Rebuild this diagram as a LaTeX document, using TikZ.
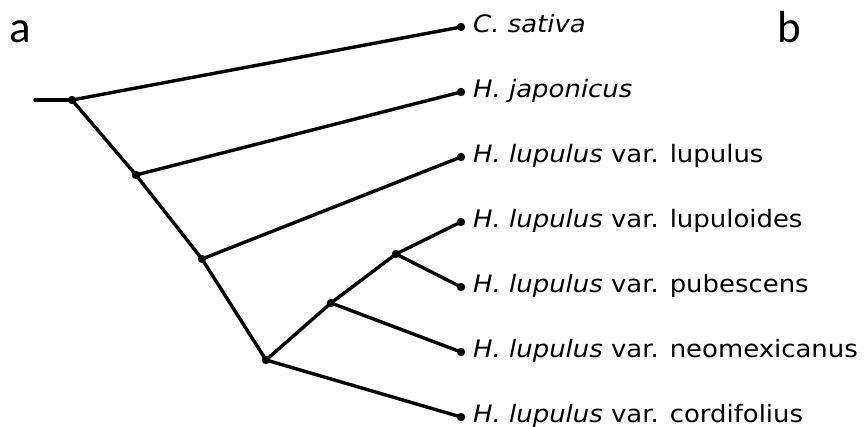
\documentclass[tikz,border=0pt]{standalone}
\usepackage{fontspec}
\setmainfont{DejaVu Sans}[FakeStretch=1.08]
\newfontfamily\panelfont{Carlito}
\usetikzlibrary{calc}
\begin{document}
\begin{tikzpicture}[x=1pt,y=-1pt,
  branch/.style={line width=3.4pt,line cap=round},
  dot/.style={fill=black},
  taxon/.style={anchor=base west,inner sep=0pt,font=\fontsize{24}{28}\selectfont},
  panel/.style={anchor=base west,inner sep=0pt,font=\panelfont\fontsize{45}{50}\selectfont}]
\useasboundingbox (0,0) rectangle (868,427);
% internal nodes
\coordinate (root) at (35,100);
\coordinate (n1) at (72,100);
\coordinate (n2) at (136,175);
\coordinate (n3) at (202,259);
\coordinate (n4) at (266,360);
\coordinate (n5) at (331,303);
\coordinate (n6) at (396,254);
% tips
\coordinate (tC)  at (461,27);
\coordinate (tJ)  at (461,92);
\coordinate (tL)  at (461,157);
\coordinate (tLo) at (461,222);
\coordinate (tP)  at (461,287);
\coordinate (tN)  at (461,352);
\coordinate (tCo) at (461,417);
% branches
\draw[branch] (root) -- (n1);
\draw[branch] (n1) -- (tC);
\draw[branch] (n1) -- (n2);
\draw[branch] (n2) -- (tJ);
\draw[branch] (n2) -- (n3);
\draw[branch] (n3) -- (tL);
\draw[branch] (n3) -- (n4);
\draw[branch] (n4) -- (n5);
\draw[branch] (n5) -- (n6);
\draw[branch] (n6) -- (tLo);
\draw[branch] (n6) -- (tP);
\draw[branch] (n5) -- (tN);
\draw[branch] (n4) -- (tCo);
% node dots
\foreach \p in {n1,n2,n3,n4,n5,n6,tC,tJ,tL,tLo,tP,tN,tCo}
  \fill[dot] (\p) circle (4.2);
% taxon labels
\node[taxon] (lC)  at ($(tC)+(12,6)$)  {\textit{C. sativa}};
\node[taxon] (lJ)  at ($(tJ)+(12,6)$)  {\textit{H. japonicus}};
\node[taxon] (lL)  at ($(tL)+(12,6)$)  {\textit{H. lupulus} var. lupulus};
\node[taxon] (lLo) at ($(tLo)+(12,6)$) {\textit{H. lupulus} var. lupuloides};
\node[taxon] (lP)  at ($(tP)+(12,6)$)  {\textit{H. lupulus} var. pubescens};
\node[taxon] (lN)  at ($(tN)+(12,6)$)  {\textit{H. lupulus} var. neomexicanus};
\node[taxon] (lCo) at ($(tCo)+(12,6)$) {\textit{H. lupulus} var. cordifolius};
% panel letters
\node[panel] (pa) at (9,43) {a};
\node[panel] (pb) at (777,43) {b};
\end{tikzpicture}
\end{document}
